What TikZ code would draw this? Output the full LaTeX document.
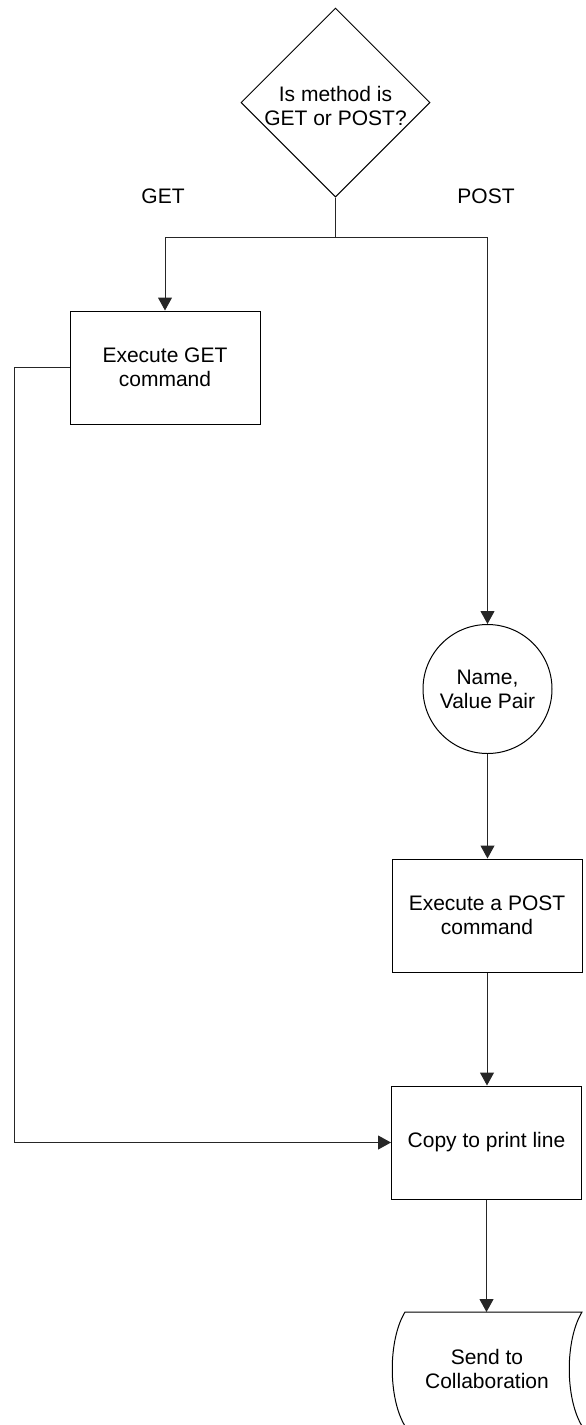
\documentclass[tikz,border=0pt]{standalone}
\usepackage{fontspec}
\setmainfont{Liberation Sans}
\usetikzlibrary{shapes.geometric,arrows.meta,calc}
\tikzset{
  box/.style={draw=black, line width=1pt, rectangle, minimum width=190pt, minimum height=113pt, inner sep=0pt, align=center},
  lbl/.style={align=center, inner sep=0pt},
  conn/.style={draw=black!85, line width=1pt},
  arr/.style={conn, -{Triangle[length=13pt,width=14pt]}}
}
\begin{document}
\begin{tikzpicture}[x=1pt,y=-1pt,font=\fontsize{21}{24}\selectfont]
\useasboundingbox (0,0) rectangle (586,1425);
% decision
\node[draw=black, line width=1pt, diamond, minimum width=189pt, minimum height=189pt, inner sep=0pt] (dec) at (335.5,102.5) {};
\node[lbl] (dect) at (335.5,106) {Is method is\\GET or POST?};
% labels
\node[lbl] (lget) at (163,196) {GET};
\node[lbl] (lpost) at (486,196) {POST};
% boxes
\node[box] (get) at (165,367.5) {Execute GET\\command};
\node[draw=black, line width=1pt, circle, minimum size=129pt, inner sep=0pt, align=center] (nv) at (487.5,689) {Name,\\Value Pair};
\node[box] (post) at (487,915.5) {Execute a POST\\command};
\node[box] (copy) at (486.5,1142.5) {Copy to print line};
% stored data shape
\draw[line width=1pt] (405,1312) -- (582,1312)
  .. controls (565,1340) and (565,1398) .. (582,1426) -- (405,1426)
  .. controls (388,1398) and (388,1340) .. (405,1312) -- cycle;
\node[lbl, minimum width=177pt, minimum height=114pt] (send) at (487,1369) {Send to\\Collaboration};
\coordinate (sendtop) at (487,1312);
% connectors
\coordinate (split) at (335.5,237);
\coordinate (jl) at (get.north |- split);
\coordinate (jr) at (nv.north |- split);
\draw[conn] (dec.south) -- (split);
\draw[conn] (jl) -- (jr);
\draw[arr] (jl) -- (get.north);
\draw[arr] (jr) -- (nv.north);
\draw[arr] (nv.south) -- (nv.south |- post.north);
\draw[arr] (post.south) -- (post.south |- copy.north);
\draw[arr] (copy.south) -- (copy.south |- sendtop);
\coordinate (lc) at (14,0);
\draw[arr] (get.west) -- (lc |- get.west) -- (lc |- copy.west) -- (copy.west);
\end{tikzpicture}
\end{document}
